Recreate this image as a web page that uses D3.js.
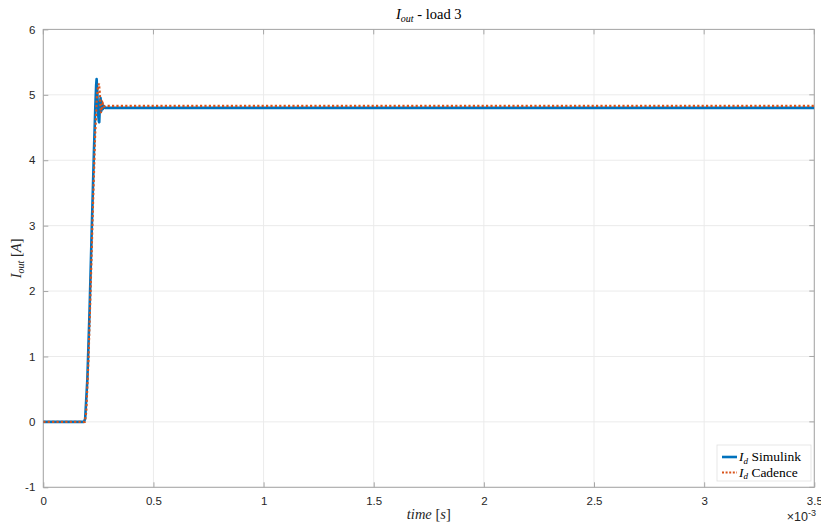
<!DOCTYPE html>
<html>
<head>
<meta charset="utf-8">
<script src="https://cdn.jsdelivr.net/npm/d3@7"></script>
<style>
  body { margin: 0; background: #fff; }
  svg { display: block; }
  .tick text { font-family: "Liberation Sans", Arial, sans-serif; font-size: 11.5px; fill: #262626; }
</style>
</head>
<body>
<svg id="chart" width="821" height="527"></svg>
<script>
// time in ms (axis shows ×10^-3 s), current in A
const simTime = [0, 0.185, 0.19, 0.2, 0.21, 0.22, 0.23, 0.236, 0.24, 0.242, 0.245, 0.249, 0.252, 0.254, 0.257, 0.26, 0.263, 0.266, 0.27, 0.275, 0.28, 0.29, 3.5];
const simCurrent = [0, 0, 0.05, 0.65, 1.7, 2.95, 4.15, 4.8, 5.15, 5.24, 5.05, 4.7, 4.6, 4.58, 4.85, 4.95, 4.75, 4.88, 4.78, 4.83, 4.8, 4.8, 4.8];
const cadTime = [0, 0.188, 0.195, 0.205, 0.215, 0.225, 0.235, 0.243, 0.249, 0.253, 0.257, 0.261, 0.265, 0.27, 0.276, 0.285, 3.5];
const cadCurrent = [0, 0, 0.15, 0.95, 2.05, 3.25, 4.35, 4.95, 5.14, 5.17, 5.0, 4.72, 4.78, 4.87, 4.82, 4.83, 4.83];
const xTicks = [0, 0.5, 1, 1.5, 2, 2.5, 3, 3.5];
const yTicks = [-1, 0, 1, 2, 3, 4, 5, 6];
const seriesNames = ["Simulink", "Cadence"];

const svg = d3.select("#chart");
const m = { left: 43.3, right: 814.3, top: 29.4, bottom: 487.3 };
const x = d3.scaleLinear().domain([0, 3.5]).range([m.left, m.right]);
const y = d3.scaleLinear().domain([-1, 6]).range([m.bottom, m.top]);

// grid
const grid = svg.append("g");
grid.selectAll(".gx").data(xTicks).join("line")
  .attr("x1", d => x(d)).attr("x2", d => x(d))
  .attr("y1", m.top).attr("y2", m.bottom)
  .attr("stroke", "#ebebeb").attr("stroke-width", 1);
grid.selectAll(".gy").data(yTicks).join("line")
  .attr("x1", m.left).attr("x2", m.right)
  .attr("y1", d => y(d)).attr("y2", d => y(d))
  .attr("stroke", "#ebebeb").attr("stroke-width", 1);

// axes
const fmt = d => String(d);
const xAxis = d3.axisBottom(x).tickValues(xTicks).tickSizeInner(-5).tickSizeOuter(0).tickPadding(10).tickFormat(fmt);
const yAxis = d3.axisLeft(y).tickValues(yTicks).tickSizeInner(-5).tickSizeOuter(0).tickPadding(8).tickFormat(fmt);

const gx = svg.append("g").attr("transform", `translate(0,${m.bottom})`).call(xAxis);
const gy = svg.append("g").attr("transform", `translate(${m.left},0)`).call(yAxis);
[gx, gy].forEach(g => {
  g.select(".domain").remove();
  g.selectAll(".tick line").attr("stroke", "#a6a6a6");
});
gx.selectAll(".tick text").attr("dy", "0.71em");

// frame
svg.append("rect").attr("x", m.left).attr("y", m.top)
  .attr("width", m.right - m.left).attr("height", m.bottom - m.top)
  .attr("fill", "none").attr("stroke", "#a6a6a6").attr("stroke-width", 1);
// top/right ticks
svg.append("g").selectAll("line").data(xTicks).join("line")
  .attr("x1", d => x(d)).attr("x2", d => x(d)).attr("y1", m.top).attr("y2", m.top + 5)
  .attr("stroke", "#a6a6a6");
svg.append("g").selectAll("line").data(yTicks).join("line")
  .attr("y1", d => y(d)).attr("y2", d => y(d)).attr("x1", m.right).attr("x2", m.right - 5)
  .attr("stroke", "#a6a6a6");

// lines
const line = d3.line().x(d => x(d[0])).y(d => y(d[1]));
const simData = simTime.map((t, i) => [t, simCurrent[i]]);
const cadData = cadTime.map((t, i) => [t, cadCurrent[i]]);
svg.append("clipPath").attr("id", "clip").append("rect")
  .attr("x", m.left).attr("y", m.top).attr("width", m.right - m.left).attr("height", m.bottom - m.top);
svg.append("path").datum(simData).attr("d", line).attr("clip-path", "url(#clip)")
  .attr("fill", "none").attr("stroke", "#0072BD").attr("stroke-width", 2.6).attr("stroke-linejoin", "round");
svg.append("path").datum(cadData).attr("d", line).attr("clip-path", "url(#clip)")
  .attr("fill", "none").attr("stroke", "#D95319").attr("stroke-width", 2.2).attr("stroke-dasharray", "2.2,2.2");

// title
const serif = "'Liberation Serif', 'Times New Roman', serif";
const title = svg.append("text").attr("x", (m.left + m.right) / 2).attr("y", 19)
  .attr("text-anchor", "middle").attr("font-family", serif).attr("font-size", 14.5).attr("fill", "#000");
title.append("tspan").attr("font-style", "italic").text("I");
title.append("tspan").attr("font-style", "italic").attr("font-size", 10).attr("dy", 3).text("out");
title.append("tspan").attr("dy", -3).text(" - load 3");

// x label
const xl = svg.append("text").attr("x", (m.left + m.right) / 2).attr("y", 519)
  .attr("text-anchor", "middle").attr("font-family", serif).attr("font-size", 14.5).attr("fill", "#262626");
xl.append("tspan").attr("font-style", "italic").text("time");
xl.append("tspan").text(" [");
xl.append("tspan").attr("font-style", "italic").text("s");
xl.append("tspan").text("]");

// y label
const yl = svg.append("text").attr("transform", `translate(21,${(m.top + m.bottom) / 2}) rotate(-90)`)
  .attr("text-anchor", "middle").attr("font-family", serif).attr("font-size", 14.5).attr("fill", "#262626");
yl.append("tspan").attr("font-style", "italic").text("I");
yl.append("tspan").attr("font-style", "italic").attr("font-size", 10).attr("dy", 3).text("out");
yl.append("tspan").attr("dy", -3).text(" [");
yl.append("tspan").attr("font-style", "italic").text("A");
yl.append("tspan").text("]");

// exponent
const ex = svg.append("text").attr("x", 816).attr("y", 521).attr("text-anchor", "end")
  .attr("font-family", "'Liberation Sans', Arial, sans-serif").attr("font-size", 12.5).attr("fill", "#262626");
ex.append("tspan").text("×10");
ex.append("tspan").attr("font-size", 9).attr("dy", -5).text("-3");

// legend
const lg = svg.append("g");
lg.append("rect").attr("x", 717).attr("y", 445).attr("width", 94).attr("height", 36)
  .attr("fill", "#fff").attr("stroke", "#e0e0e0").attr("stroke-width", 0.8);
const legendItems = [
  { name: seriesNames[0], color: "#0072BD", dash: null, w: 2.6 },
  { name: seriesNames[1], color: "#D95319", dash: "2,1.6", w: 2 }
];
legendItems.forEach((it, i) => {
  const yy = 457 + i * 15.5;
  lg.append("line").attr("x1", 722).attr("x2", 737).attr("y1", yy).attr("y2", yy)
    .attr("stroke", it.color).attr("stroke-width", it.w).attr("stroke-dasharray", it.dash);
  const t = lg.append("text").attr("x", 739).attr("y", yy + 4)
    .attr("font-family", serif).attr("font-size", 13.5).attr("fill", "#000");
  t.append("tspan").attr("font-style", "italic").text("I");
  t.append("tspan").attr("font-style", "italic").attr("font-size", 9).attr("dy", 2.5).text("d");
  t.append("tspan").attr("dy", -2.5).text(" " + it.name);
});
</script>
</body>
</html>
